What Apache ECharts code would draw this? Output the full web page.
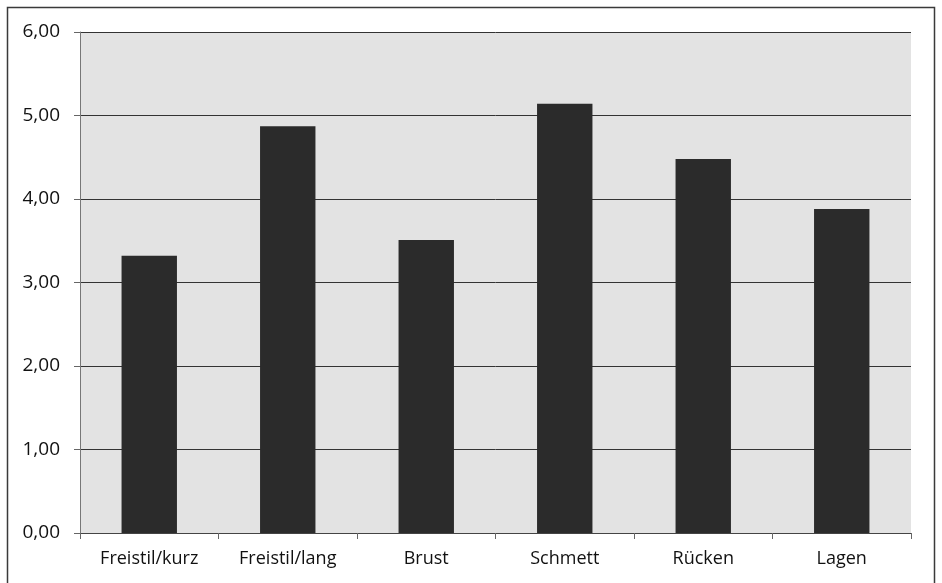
<!DOCTYPE html>
<html>
<head>
<meta charset="utf-8">
<script src="https://cdn.jsdelivr.net/npm/echarts@6/dist/echarts.min.js"></script>
<style>
  html, body { margin: 0; padding: 0; background: #ffffff; }
  #chart { width: 942px; height: 583px; }
</style>
</head>
<body>
<div id="chart"></div>
<script>
// Schwimmlagen und Mittelwerte
const categories = ['Freistil/kurz', 'Freistil/lang', 'Brust', 'Schmett', 'Rücken', 'Lagen'];
const values = [3.32, 4.87, 3.51, 5.14, 4.48, 3.88];
const yMin = 0;
const yMax = 6;
const yStep = 1;

const fmt = v => v.toFixed(2).replace('.', ',');
const font = '"Open Sans", "Liberation Sans", sans-serif';

const chart = echarts.init(document.getElementById('chart'), null, { renderer: 'canvas' });
chart.setOption({
  animation: false,
  backgroundColor: '#ffffff',
  graphic: [{
    type: 'rect',
    shape: { x: 7.5, y: 7.5, width: 927, height: 590 },
    style: { fill: 'none', stroke: '#3a3a3a', lineWidth: 1.5 },
    silent: true,
    z: -1
  }],
  grid: {
    left: 80, right: 31, top: 32, bottom: 50,
    show: true,
    backgroundColor: '#e3e3e3',
    borderWidth: 0
  },
  xAxis: {
    type: 'category',
    data: categories,
    axisLine: { lineStyle: { color: '#444', width: 1 } },
    axisTick: { show: true, length: 6, lineStyle: { color: '#666' } },
    axisLabel: { color: '#111', fontFamily: font, fontSize: 18, margin: 17 }
  },
  yAxis: {
    type: 'value',
    min: yMin, max: yMax, interval: yStep,
    axisLine: { show: true, lineStyle: { color: '#777', width: 1 } },
    axisTick: { show: true, length: 6, lineStyle: { color: '#666' } },
    splitLine: { lineStyle: { color: '#333', width: 1 } },
    axisLabel: { color: '#111', fontFamily: font, fontSize: 19, margin: 20, formatter: fmt }
  },
  series: [{
    type: 'bar',
    data: values,
    barWidth: '40%',
    itemStyle: { color: '#2b2b2b' }
  }]
});
</script>
</body>
</html>
